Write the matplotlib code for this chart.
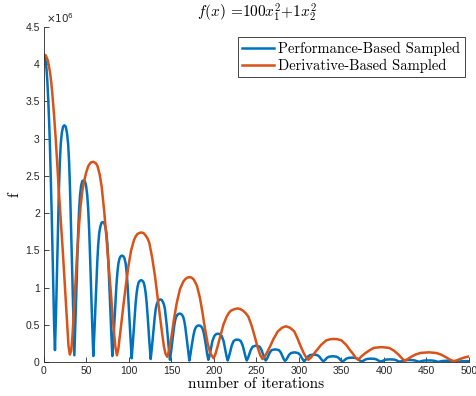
import matplotlib
matplotlib.use("Agg")
import matplotlib.pyplot as plt
from matplotlib.ticker import FuncFormatter

plt.rcParams["mathtext.fontset"] = "cm"

# values, f in units of 1e6
perf_points = [
    (0, 4.13), (1, 4.11), (2, 4.04), (3, 3.93), (4, 3.76), (5, 3.52), (6, 3.24), (7, 2.9), (8, 2.48), (9, 2.02), (10, 1.52), (11, 0.98), (12, 0.45), (12.9, 0.16),
    (14.3, 0.73), (15.7, 1.40), (16.5, 1.84), (17.5, 2.29), (18.6, 2.67), (19.7, 2.93), (21.0, 3.08), (22.4, 3.16), (23.9, 3.18),
    (25.6, 3.16), (27.0, 3.08), (28.4, 2.93), (29.6, 2.67), (30.7, 2.29), (31.8, 1.84), (32.75, 1.40), (34.2, 0.73), (35.7, 0.09),
    (37.05, 0.56), (38.4, 1.07), (39.26, 1.42), (40.24, 1.76), (41.32, 2.05), (42.4, 2.24), (43.69, 2.37), (44.99, 2.43), (46.5, 2.44),
    (48.11, 2.43), (49.49, 2.37), (50.87, 2.24), (52.02, 2.05), (53.17, 1.76), (54.2, 1.42), (55.12, 1.07), (56.56, 0.56), (58, 0.08),
    (59.4, 0.43), (60.8, 0.83), (61.7, 1.09), (62.7, 1.35), (63.82, 1.58), (64.94, 1.73), (66.29, 1.82), (67.63, 1.87), (69.2, 1.88),
    (70.77, 1.87), (72.11, 1.82), (73.46, 1.73), (74.58, 1.58), (75.7, 1.35), (76.7, 1.09), (77.6, 0.83), (79.0, 0.43), (80.4, 0.08),
    (81.83, 0.33), (83.25, 0.63), (84.16, 0.83), (85.19, 1.03), (86.33, 1.20), (87.47, 1.32), (88.84, 1.39), (90.2, 1.42), (91.8, 1.43),
    (93.38, 1.42), (94.74, 1.39), (96.1, 1.32), (97.22, 1.20), (98.35, 1.03), (99.37, 0.83), (100.27, 0.63), (101.69, 0.33), (103.1, 0.05),
    (104.5, 0.25), (105.9, 0.48), (106.8, 0.64), (107.8, 0.79), (108.92, 0.92), (110.04, 1.01), (111.39, 1.07), (112.73, 1.09), (114.3, 1.10),
    (115.87, 1.09), (117.21, 1.07), (118.56, 1.01), (119.68, 0.92), (120.8, 0.79), (121.8, 0.64), (122.7, 0.48), (124.1, 0.25), (125.5, 0.04),
    (126.91, 0.19), (128.33, 0.37), (129.23, 0.49), (130.25, 0.60), (131.38, 0.71), (132.5, 0.77), (133.86, 0.81), (135.22, 0.835), (136.8, 0.84),
    (138.4, 0.835), (139.76, 0.81), (141.13, 0.77), (142.27, 0.71), (143.41, 0.60), (144.44, 0.49), (145.35, 0.37), (146.77, 0.19), (148.2, 0.03),
    (149.63, 0.15), (151.05, 0.29), (151.96, 0.38), (152.99, 0.47), (154.13, 0.55), (155.27, 0.60), (156.64, 0.63), (158.0, 0.645), (159.6, 0.65),
    (161.2, 0.645), (162.56, 0.63), (163.93, 0.60), (165.07, 0.55), (166.21, 0.47), (167.24, 0.38), (168.15, 0.29), (169.57, 0.15), (171, 0.02),
    (172.4, 0.11), (173.8, 0.22), (174.7, 0.28), (175.7, 0.35), (176.82, 0.41), (177.94, 0.45), (179.29, 0.475), (180.63, 0.487), (182.2, 0.49),
    (183.75, 0.487), (185.09, 0.475), (186.42, 0.45), (187.53, 0.41), (188.64, 0.35), (189.64, 0.28), (190.52, 0.22), (191.91, 0.11), (193.3, 0.03),
    (194.7, 0.08), (196.1, 0.16), (198.1, 0.28), (200.4, 0.35), (202.5, 0.375), (204.7, 0.38), (206.9, 0.375), (209, 0.35), (211.3, 0.28), (213.3, 0.16), (214.7, 0.08), (216.1, 0.02),
    (217.5, 0.07), (218.9, 0.13), (220.8, 0.22), (223, 0.28), (225.2, 0.297), (227.3, 0.30), (229.4, 0.297), (231.6, 0.28), (233.8, 0.22), (235.7, 0.13), (237.1, 0.07), (238.5, 0.02),
    (239.9, 0.05), (241.3, 0.095), (243.2, 0.16), (245.4, 0.205), (249.6, 0.22), (253.8, 0.205), (256, 0.16), (257.9, 0.095), (259.3, 0.05), (260.8, 0.02),
    (262.2, 0.04), (263.6, 0.075), (265.5, 0.125), (267.8, 0.16), (272.1, 0.17), (276.4, 0.16), (278.7, 0.125), (280.6, 0.075), (282, 0.04), (283.5, 0.015),
    (285, 0.03), (286.3, 0.055), (288.2, 0.095), (290.5, 0.12), (294.7, 0.13), (299, 0.12), (301.3, 0.095), (303.2, 0.055), (304.6, 0.03), (306, 0.01),
    (307.4, 0.025), (308.8, 0.045), (310.7, 0.074), (313, 0.093), (317.2, 0.10), (321.5, 0.093), (323.8, 0.074), (325.7, 0.045), (327.1, 0.025), (328.5, 0.01),
    (330.5, 0.025), (333, 0.057), (335.5, 0.072), (339.7, 0.077), (344, 0.072), (346.5, 0.057), (349, 0.025), (351, 0.008),
    (353, 0.02), (355.5, 0.044), (358, 0.055), (362.2, 0.059), (366.5, 0.055), (369, 0.044), (371.5, 0.02), (373.5, 0.007),
    (375.5, 0.015), (378, 0.033), (380.5, 0.042), (384.7, 0.045), (389, 0.042), (391.5, 0.033), (394, 0.015), (396, 0.006),
    (398, 0.012), (400.5, 0.026), (403, 0.033), (407.2, 0.035), (411.5, 0.033), (414, 0.026), (416.5, 0.012), (418.5, 0.005),
    (420.5, 0.01), (423, 0.02), (425.5, 0.025), (429.7, 0.027), (434, 0.025), (436.5, 0.02), (439, 0.01), (441, 0.004),
    (443, 0.008), (445.5, 0.016), (448, 0.02), (452.2, 0.021), (456.5, 0.02), (459, 0.016), (461.5, 0.008), (463.5, 0.003),
    (465.5, 0.006), (468, 0.012), (470.5, 0.015), (474.7, 0.016), (479, 0.015), (481.5, 0.012), (484, 0.006), (486, 0.003),
    (488, 0.005), (490.5, 0.009), (493, 0.011), (497, 0.012), (500, 0.011),
]

deriv_points = [
    (0, 4.13), (2, 4.12), (4.5, 4.05), (7, 3.9), (8.7, 3.74), (10.2, 3.55), (12, 3.29), (13.7, 3.01), (15.5, 2.68), (17.2, 2.34), (19.6, 1.93), (22, 1.51), (24, 1.13), (25.9, 0.75), (27.4, 0.46), (28.8, 0.22), (30.4, 0.1),
    (32, 0.15), (33.5, 0.35), (35.7, 0.8), (37.5, 1.16), (39.2, 1.5), (41.2, 1.83), (43.1, 2.1), (45, 2.29), (47, 2.42), (49.5, 2.54), (52, 2.63), (55, 2.68), (58, 2.69),
    (61, 2.67), (63, 2.63), (65.5, 2.52), (67.8, 2.36), (70.8, 2.03), (73.7, 1.64), (76, 1.3), (78.4, 0.97), (80.5, 0.65), (82.4, 0.39), (84, 0.2), (85.8, 0.09),
    (87.5, 0.18), (89.4, 0.36), (91.3, 0.55), (93.3, 0.75), (96, 1.0), (99.2, 1.28), (102.5, 1.5), (105.9, 1.64), (108, 1.69), (110, 1.72), (112.5, 1.735), (114.9, 1.74),
    (117.3, 1.73), (119.5, 1.7), (121.8, 1.66), (123.9, 1.6), (127.3, 1.4), (130.6, 1.15), (133.5, 0.88), (136.5, 0.61), (139, 0.38), (141.2, 0.2), (143, 0.11), (145, 0.07),
    (147, 0.15), (150.2, 0.36), (153, 0.58), (156.1, 0.79), (160, 0.98), (163.9, 1.08), (166, 1.11), (168, 1.13), (170, 1.138), (172, 1.14), (174, 1.13), (176, 1.11),
    (178, 1.07), (180, 1.02), (183.5, 0.86), (186.5, 0.66), (189.5, 0.44), (192.5, 0.25), (195.5, 0.12), (199.5, 0.05),
    (201.5, 0.1), (204, 0.2), (207, 0.33), (211, 0.5), (214.9, 0.61), (217.5, 0.66), (220, 0.69), (224, 0.71), (228, 0.72), (231, 0.71), (234, 0.69), (237, 0.66),
    (240.4, 0.61), (244.5, 0.48), (248.2, 0.33), (251.5, 0.19), (254.5, 0.09), (257, 0.04),
    (259.5, 0.07), (262.5, 0.13), (266, 0.21), (270, 0.31), (275, 0.41), (280, 0.46), (284.5, 0.48), (289.5, 0.46), (294.5, 0.41), (298.5, 0.31), (302, 0.21), (305.5, 0.12), (308.5, 0.06), (311, 0.03),
    (314, 0.06), (317.5, 0.11), (321, 0.16), (326, 0.23), (332, 0.29), (336.5, 0.305), (341, 0.31), (345.5, 0.305), (350, 0.29), (355.5, 0.23), (360, 0.16), (363.5, 0.11), (366.5, 0.06), (369.5, 0.03),
    (373, 0.07), (377, 0.11), (382, 0.15), (388, 0.19), (397, 0.20), (406, 0.19), (412, 0.15), (417, 0.1), (421, 0.05), (424.5, 0.015),
    (428, 0.04), (432, 0.07), (437, 0.1), (443, 0.122), (453, 0.13), (462, 0.12), (467, 0.1), (472, 0.07), (477, 0.035), (481.5, 0.012),
    (485, 0.02), (489.5, 0.04), (494, 0.058), (500, 0.075),
]

perf_iter = [p[0] for p in perf_points]
perf_f = [p[1] for p in perf_points]
deriv_iter = [p[0] for p in deriv_points]
deriv_f = [p[1] for p in deriv_points]

x_ticks = [0, 50, 100, 150, 200, 250, 300, 350, 400, 450, 500]
y_ticks = [0, 0.5, 1, 1.5, 2, 2.5, 3, 3.5, 4, 4.5]

axis_grey = "#262626"

fig = plt.figure(figsize=(4.77, 3.96), dpi=100)
ax = fig.add_axes([44 / 477, 34 / 396, 425 / 477, 335 / 396])

ax.plot(perf_iter, perf_f, color="#0072BD", lw=1.8, solid_joinstyle="round",
        label="Performance-Based Sampled")
ax.plot(deriv_iter, deriv_f, color="#D95319", lw=1.8, solid_joinstyle="round",
        label="Derivative-Based Sampled")

ax.set_xlim(0, 500)
ax.set_ylim(0, 4.5)
ax.set_xticks(x_ticks)
ax.set_yticks(y_ticks)
ax.yaxis.set_major_formatter(FuncFormatter(lambda v, pos: "%g" % v))

for side in ["top", "right"]:
    ax.spines[side].set_visible(False)
for side in ["left", "bottom"]:
    ax.spines[side].set_color(axis_grey)
    ax.spines[side].set_linewidth(0.6)

ax.tick_params(direction="in", length=3.5, width=0.6, color=axis_grey,
               labelcolor=axis_grey, labelsize=7.5, pad=3)
for lab in ax.get_xticklabels() + ax.get_yticklabels():
    lab.set_family("Liberation Sans")

ax.text(0.004, 1.005, r"$\times10^{6}$", transform=ax.transAxes, ha="left", va="bottom",
        fontsize=7.5, color=axis_grey, math_fontfamily="dejavusans")

ax.set_title(r"$f(x)$ =$100x_1^2$+$1x_2^2$", fontsize=11, family="cmr10", pad=7)
ax.set_xlabel("number of iterations", fontsize=11, family="cmr10", labelpad=1)
ax.set_ylabel("f", fontsize=11, family="cmr10", labelpad=3)

leg = ax.legend(loc="upper right", bbox_to_anchor=(0.99, 0.97), prop={"family": "cmr10", "size": 10.5},
                fancybox=False, framealpha=1, edgecolor="#262626", borderpad=0.3,
                handlelength=2.2, handletextpad=0.3, labelspacing=0.2, borderaxespad=0)
leg.get_frame().set_linewidth(0.6)

fig.savefig("out.png", dpi=100, facecolor="white")
